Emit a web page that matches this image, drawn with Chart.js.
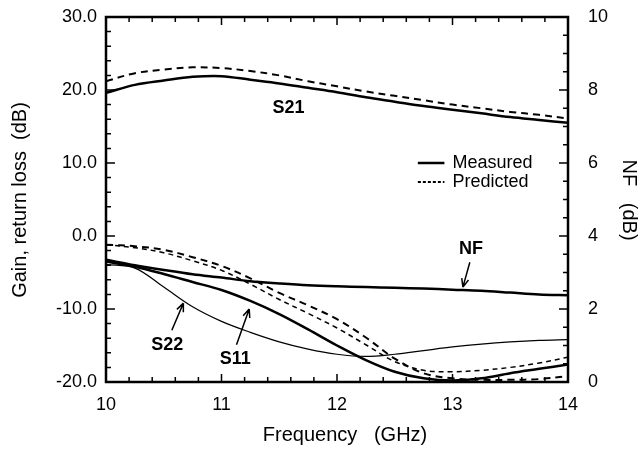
<!DOCTYPE html>
<html>
<head>
<meta charset="utf-8">
<script src="https://cdn.jsdelivr.net/npm/chart.js@4/dist/chart.umd.min.js"></script>
<style>
  body { margin: 0; background: #fff; }
  #wrap { width: 642px; height: 449px; position: relative; }
</style>
</head>
<body>
<div id="wrap"><canvas id="ampChart"></canvas></div>
<script>
// frequency points (GHz)
const freq = [10, 10.25, 10.5, 10.75, 11, 11.25, 11.5, 11.75, 12, 12.25, 12.5, 12.75, 13, 13.25, 13.5, 13.75, 14];

// gain / return loss (dB), left axis
const s21Measured  = [19.6, 20.7, 21.3, 21.8, 21.9, 21.4, 20.9, 20.3, 19.7, 19.0, 18.4, 17.8, 17.3, 16.8, 16.3, 15.9, 15.5];
const s21Predicted = [21.2, 22.3, 22.8, 23.1, 23.0, 22.6, 22.0, 21.2, 20.5, 19.8, 19.2, 18.6, 18.0, 17.5, 17.0, 16.6, 16.1];
const s11Measured  = [-3.5, -4.2, -5.2, -6.3, -7.4, -8.9, -10.7, -12.8, -15.0, -17.0, -18.6, -19.5, -19.8, -19.5, -18.8, -18.2, -17.6];
const s22Measured  = [-3.9, -4.4, -7.0, -9.7, -11.7, -13.2, -14.5, -15.5, -16.2, -16.5, -16.2, -15.7, -15.2, -14.8, -14.5, -14.3, -14.2];
const s11Predicted = [-1.2, -1.4, -1.9, -2.9, -4.1, -5.8, -7.8, -9.5, -11.4, -13.9, -16.8, -18.8, -19.5, -19.7, -19.7, -19.6, -19.2];
const s22Predicted = [-1.2, -1.6, -2.3, -3.4, -4.7, -6.6, -8.7, -10.6, -12.6, -14.9, -17.2, -18.4, -18.6, -18.4, -18.0, -17.4, -16.6];

// noise figure (dB), right axis
const nfMeasured = [3.35, 3.2, 3.07, 2.95, 2.86, 2.76, 2.7, 2.65, 2.62, 2.6, 2.58, 2.56, 2.53, 2.5, 2.45, 2.4, 2.38];

// tick labels
const xTicks = [10, 11, 12, 13, 14];
const leftTicks = [-20, -10, 0, 10, 20, 30];
const rightTicks = [0, 2, 4, 6, 8, 10];

const FONT = "'Liberation Sans', Arial, Helvetica, sans-serif";
Chart.defaults.font.family = FONT;
Chart.defaults.color = '#000';

function pts(arr) {
  return freq.map((f, i) => ({ x: f, y: arr[i] }));
}

function lineSet(label, arr, width, dash, axis) {
  return {
    label: label,
    data: pts(arr),
    borderColor: '#000',
    borderWidth: width,
    borderDash: dash,
    pointRadius: 0,
    tension: 0.35,
    fill: false,
    yAxisID: axis || 'y'
  };
}

// no extra room for the end labels, the frame is fixed
function noPad(s) {
  s.paddingTop = 0; s.paddingBottom = 0;
  s.paddingLeft = 0; s.paddingRight = 0;
}

// titles, inward ticks, frame, labels and arrows
const decorPlugin = {
  id: 'decor',
  afterDraw(chart) {
    const ctx = chart.ctx;
    const a = chart.chartArea;
    const xs = chart.scales.x, ys = chart.scales.y, ys2 = chart.scales.y2;
    const X = v => xs.getPixelForValue(v);
    const Y = v => ys.getPixelForValue(v);
    ctx.save();
    ctx.strokeStyle = '#000';
    ctx.fillStyle = '#000';

    // ticks
    ctx.lineWidth = 1.5;
    ctx.beginPath();
    for (let i = 0; i <= 20; i++) {
      const px = X(10 + i * 0.2);
      const len = i % 5 === 0 ? 8 : 5;
      ctx.moveTo(px, a.bottom); ctx.lineTo(px, a.bottom - len);
      ctx.moveTo(px, a.top); ctx.lineTo(px, a.top + len);
    }
    for (let v = -20; v <= 30; v += 2) {
      const py = Y(v);
      const len = v % 10 === 0 ? 9 : 5;
      ctx.moveTo(a.left, py); ctx.lineTo(a.left + len, py);
    }
    for (let i = 0; i <= 20; i++) {
      const py = ys2.getPixelForValue(i * 0.5);
      const len = i % 4 === 0 ? 9 : 5;
      ctx.moveTo(a.right, py); ctx.lineTo(a.right - len, py);
    }
    ctx.stroke();

    // frame
    ctx.lineWidth = 2.5;
    ctx.strokeRect(a.left, a.top, a.right - a.left, a.bottom - a.top);

    // axis titles
    ctx.font = '20px ' + FONT;
    ctx.textAlign = 'center';
    ctx.textBaseline = 'middle';
    ctx.fillText('Frequency   (GHz)', 345, 435);
    ctx.save();
    ctx.translate(20, 200);
    ctx.rotate(-Math.PI / 2);
    ctx.fillText('Gain, return loss  (dB)', 0, 0);
    ctx.restore();
    ctx.save();
    ctx.translate(629, 200);
    ctx.rotate(Math.PI / 2);
    ctx.fillText('NF   (dB)', 0, 0);
    ctx.restore();

    // legend
    ctx.lineWidth = 2.5;
    ctx.setLineDash([]);
    ctx.beginPath();
    ctx.moveTo(X(12.7), Y(10.0)); ctx.lineTo(X(12.93), Y(10.0));
    ctx.stroke();
    ctx.lineWidth = 1.8;
    ctx.setLineDash([3, 2]);
    ctx.beginPath();
    ctx.moveTo(X(12.7), Y(7.4)); ctx.lineTo(X(12.93), Y(7.4));
    ctx.stroke();
    ctx.setLineDash([]);
    ctx.font = '18px ' + FONT;
    ctx.textAlign = 'left';
    ctx.fillText('Measured', X(13.0), Y(10.0));
    ctx.fillText('Predicted', X(13.0), Y(7.4));

    // curve labels
    ctx.font = 'bold 18px ' + FONT;
    ctx.textAlign = 'center';
    ctx.fillText('S21', X(11.58), Y(17.5));
    ctx.fillText('NF', X(13.16), Y(-1.8));
    ctx.fillText('S22', X(10.53), Y(-14.9));
    ctx.fillText('S11', X(11.12), Y(-16.8));

    // arrows
    function arrow(f0, d0, f1, d1) {
      const x0 = X(f0), y0 = Y(d0), x1 = X(f1), y1 = Y(d1);
      const ang = Math.atan2(y1 - y0, x1 - x0);
      ctx.lineWidth = 1.5;
      ctx.beginPath();
      ctx.moveTo(x0, y0); ctx.lineTo(x1, y1);
      ctx.moveTo(x1, y1);
      ctx.lineTo(x1 - 9 * Math.cos(ang - 0.4), y1 - 9 * Math.sin(ang - 0.4));
      ctx.moveTo(x1, y1);
      ctx.lineTo(x1 - 9 * Math.cos(ang + 0.4), y1 - 9 * Math.sin(ang + 0.4));
      ctx.stroke();
    }
    arrow(13.15, -3.6, 13.09, -7.0);
    arrow(10.57, -12.9, 10.67, -9.2);
    arrow(11.13, -14.9, 11.24, -10.0);

    ctx.restore();
  }
};

new Chart(document.getElementById('ampChart'), {
  type: 'line',
  data: {
    datasets: [
      lineSet('S21 measured', s21Measured, 2.5, []),
      lineSet('S21 predicted', s21Predicted, 2, [7, 5]),
      lineSet('NF measured', nfMeasured, 2.5, [], 'y2'),
      lineSet('S11 measured', s11Measured, 2.5, []),
      lineSet('S22 measured', s22Measured, 1.2, []),
      lineSet('S11 predicted', s11Predicted, 2, [7, 5]),
      lineSet('S22 predicted', s22Predicted, 1.5, [5, 4])
    ]
  },
  options: {
    responsive: true,
    maintainAspectRatio: false,
    animation: false,
    layout: { padding: { top: 17, left: 0, right: 0, bottom: 0 } },
    plugins: { legend: { display: false }, tooltip: { enabled: false } },
    scales: {
      x: {
        type: 'linear', min: 10, max: 14,
        grid: { display: false }, border: { display: false },
        afterBuildTicks: s => { s.ticks = xTicks.map(v => ({ value: v })); },
        ticks: { padding: 4, font: { size: 18 }, maxRotation: 0, callback: v => String(v) },
        afterFit: s => { s.height = 67; noPad(s); }
      },
      y: {
        position: 'left', min: -20, max: 30,
        grid: { display: false }, border: { display: false },
        afterBuildTicks: s => { s.ticks = leftTicks.map(v => ({ value: v })); },
        ticks: { padding: 1, font: { size: 18 }, callback: v => v.toFixed(1) },
        afterFit: s => { s.width = 106; noPad(s); }
      },
      y2: {
        position: 'right', min: 0, max: 10,
        grid: { display: false }, border: { display: false },
        afterBuildTicks: s => { s.ticks = rightTicks.map(v => ({ value: v })); },
        ticks: { padding: 12, font: { size: 18 }, callback: v => String(v) },
        afterFit: s => { s.width = 74; noPad(s); }
      }
    }
  },
  plugins: [decorPlugin]
});
</script>
</body>
</html>
